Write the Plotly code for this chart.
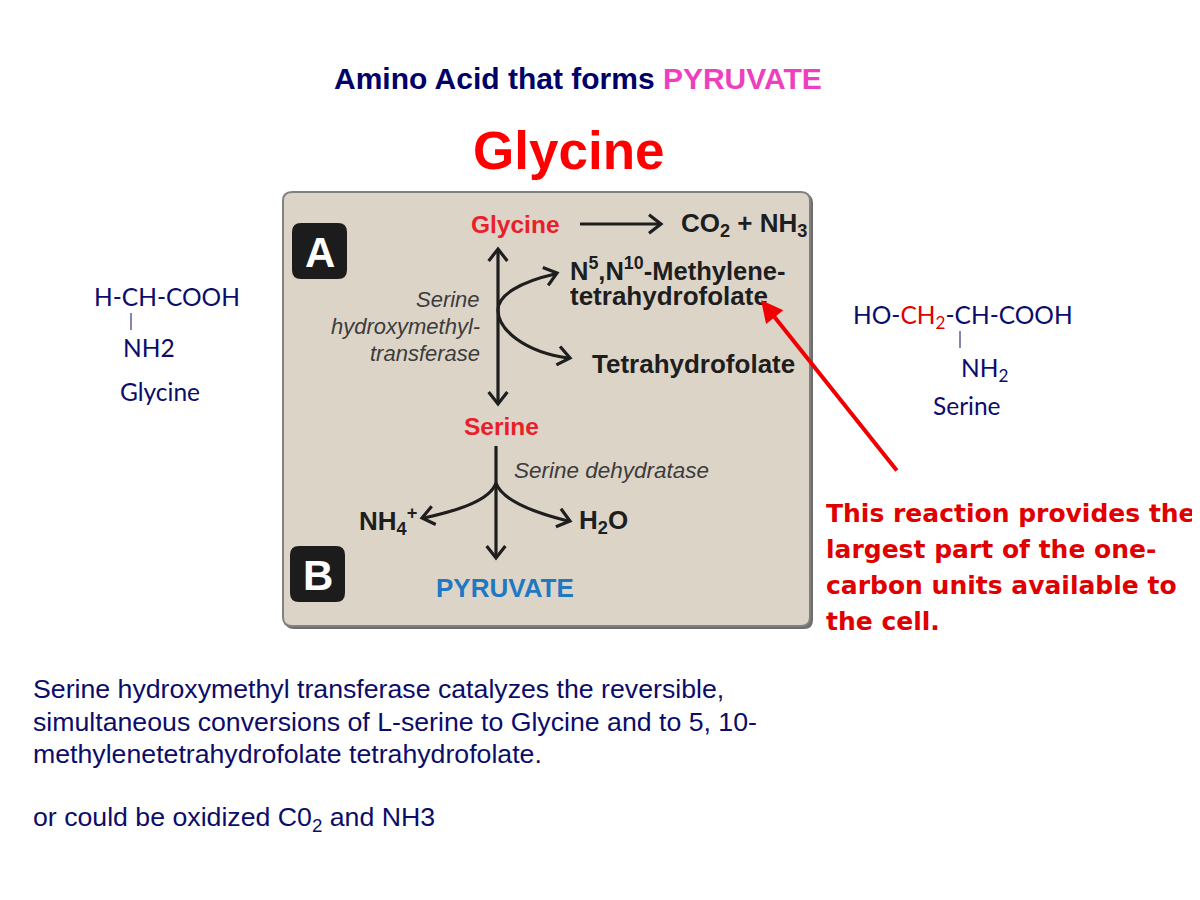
import plotly.graph_objects as go

# ---- text content of the slide ----
title_text = "Amino Acid that forms "
title_highlight = "PYRUVATE"
heading = "Glycine"

panel_letters = ["A", "B"]
top_nodes = ["Glycine", "CO<sub>2</sub> + NH<sub>3</sub>",
             "N<sup>5</sup>,N<sup>10</sup>-Methylene-", "tetrahydrofolate",
             "Tetrahydrofolate"]
enzyme_a = ["Serine", "hydroxymethyl-", "transferase"]
bottom_nodes = ["Serine", "NH<sub>4</sub><sup>+</sup>", "H<sub>2</sub>O", "PYRUVATE"]
enzyme_b = "Serine dehydratase"

glycine_formula = ["H-CH-COOH", "NH2", "Glycine"]
serine_formula = ["HO-<span style='color:#e00000'>CH<sub>2</sub></span>-CH-COOH",
                  "NH<sub>2</sub>", "Serine"]

note_lines = ["This reaction provides the", "largest part of the one-",
              "carbon units available to", "the cell."]
body_lines = ["Serine hydroxymethyl transferase catalyzes the reversible,",
              "simultaneous conversions of L-serine to Glycine and to 5, 10-",
              "methylenetetrahydrofolate tetrahydrofolate.",
              "",
              "or could be oxidized C0<sub>2</sub> and NH3"]

NAVY = "#0c0c6a"
INK = "#1e1e1e"
ARIAL = "Liberation Sans, Arial, sans-serif"
CALI = "Lato, Open Sans, sans-serif"
TAHOMA = "DejaVu Sans, Verdana, sans-serif"

fig = go.Figure()
shapes = []
ann = []


def text(x, y, s, size, color, anchor="left", bold=False, italic=False, family=ARIAL):
    if bold:
        s = "<b>" + s + "</b>"
    if italic:
        s = "<i>" + s + "</i>"
    ann.append(dict(x=x, y=y, xref="x", yref="y", text=s, showarrow=False,
                    xanchor=anchor, yanchor="middle",
                    font=dict(size=size, color=color, family=family)))


def rounded(x0, y0, x1, y1, r):
    return (f"M {x0+r},{y0} L {x1-r},{y0} Q {x1},{y0} {x1},{y0+r} "
            f"L {x1},{y1-r} Q {x1},{y1} {x1-r},{y1} L {x0+r},{y1} "
            f"Q {x0},{y1} {x0},{y1-r} L {x0},{y0+r} Q {x0},{y0} {x0+r},{y0} Z")


def chevron(tx, ty, dx, dy, size=12):
    # open arrow head at (tx, ty) pointing along (dx, dy)
    n = (dx * dx + dy * dy) ** 0.5
    ux, uy = dx / n, dy / n
    px, py = -uy, ux
    bx, by = tx - ux * size, ty - uy * size
    w = size * 0.78
    return f"M {bx+px*w},{by+py*w} L {tx},{ty} L {bx-px*w},{by-py*w}"


def ink(path, width=3.2, color=INK):
    shapes.append(dict(type="path", path=path, xref="x", yref="y",
                       line=dict(color=color, width=width)))


# ---- titles ----
text(578, 78, title_text + f"<span style='color:#ee3fc0'>{title_highlight}</span>",
     30, "#000066", anchor="center", bold=True)
text(568, 150, heading, 53, "#ff0000", anchor="center", bold=True)

# ---- figure panel ----
shapes.append(dict(type="path", path=rounded(285, 194, 813, 629, 9), xref="x", yref="y",
                   fillcolor="#6e6e6e", line=dict(width=0)))
shapes.append(dict(type="path", path=rounded(283, 192, 810, 626, 9), xref="x", yref="y",
                   fillcolor="#ddd4c8", line=dict(color="#808080", width=2)))
for (bx, by), letter in zip([(292, 223), (290, 546)], panel_letters):
    shapes.append(dict(type="path", path=rounded(bx, by, bx + 55, by + 56, 9), xref="x", yref="y",
                       fillcolor="#1c1c1c", line=dict(width=0)))
    text(bx + 27.5, by + 29, letter, 42, "white", anchor="center", bold=True)

# panel A
text(515, 224, top_nodes[0], 24.5, "#e8202a", anchor="center", bold=True)
ink("M 580,224 L 660,224")
ink(chevron(661, 224, 1, 0))
text(679, 224, top_nodes[1], 26, INK, bold=True)
text(568, 269, top_nodes[2], 25.5, INK, bold=True)
text(568, 296, top_nodes[3], 26, INK, bold=True)
text(590, 364, top_nodes[4], 26, INK, bold=True)
for i, s in enumerate(enzyme_a):
    text(482, 299 + 27 * i, s, 22, "#3c3c3c", anchor="right", italic=True)
ink("M 498,252 L 498,402")
ink(chevron(498, 249, 0, -1))
ink(chevron(498, 404, 0, 1))
ink("M 555,274 C 520,282 498,295 498,310 C 498,330 525,352 568,358")
ink(chevron(557, 273, 1, -0.3))
ink(chevron(570, 358, 1, 0.2))

# panel B
text(501, 426, bottom_nodes[0], 24.5, "#e8202a", anchor="center", bold=True)
text(512, 470, enzyme_b, 22.5, "#3c3c3c", italic=True)
ink("M 496,446 L 496,556")
ink(chevron(496, 558, 0, 1))
ink("M 496,483 C 490,500 460,510 424,518")
ink(chevron(422, 518, -1, 0.22))
ink("M 496,483 C 502,500 532,512 568,521")
ink(chevron(570, 521, 1, 0.28))
text(419, 521, bottom_nodes[1], 26, INK, anchor="right", bold=True)
text(577, 521, bottom_nodes[2], 26, INK, bold=True)
text(505, 588, bottom_nodes[3], 26, "#1f78c1", anchor="center", bold=True)

# ---- structures ----
text(92, 296, glycine_formula[0], 24.5, NAVY, family=CALI)
shapes.append(dict(type="line", x0=131, x1=131, y0=313, y1=330, xref="x", yref="y",
                   line=dict(color=NAVY, width=1)))
text(121, 347, glycine_formula[1], 24.5, NAVY, family=CALI)
text(118, 391, glycine_formula[2], 24.5, NAVY, family=CALI)

text(851, 316, serine_formula[0], 24.5, NAVY, family=CALI)
shapes.append(dict(type="line", x0=960, x1=960, y0=331, y1=348, xref="x", yref="y",
                   line=dict(color=NAVY, width=1)))
text(959, 369, serine_formula[1], 24.5, NAVY, family=CALI)
text(931, 405, serine_formula[2], 24.5, NAVY, family=CALI)

# ---- red note with arrow ----
ann.append(dict(x=761, y=300, ax=898, ay=472, xref="x", yref="y", axref="x", ayref="y",
                text="", showarrow=True, arrowhead=2, arrowsize=1.1, arrowwidth=4,
                arrowcolor="#f00000", standoff=0))
for i, s in enumerate(note_lines):
    text(824, 513 + 36 * i, s, 25, "#e00000", bold=True, family=TAHOMA)

# ---- body text ----
for i, s in enumerate(body_lines):
    if s:
        text(31, 689 + 32.5 * i, s, 26.7, NAVY)

fig.update_layout(
    width=1200, height=900, autosize=False,
    margin=dict(l=0, r=0, t=0, b=0),
    paper_bgcolor="white", plot_bgcolor="white",
    # page body adds an 8px offset, so the ranges are shifted to compensate
    xaxis=dict(range=[8, 1208], visible=False, fixedrange=True),
    yaxis=dict(range=[908, 8], visible=False, fixedrange=True),
    shapes=shapes, annotations=ann, showlegend=False,
)
fig.write_html("out.html")
